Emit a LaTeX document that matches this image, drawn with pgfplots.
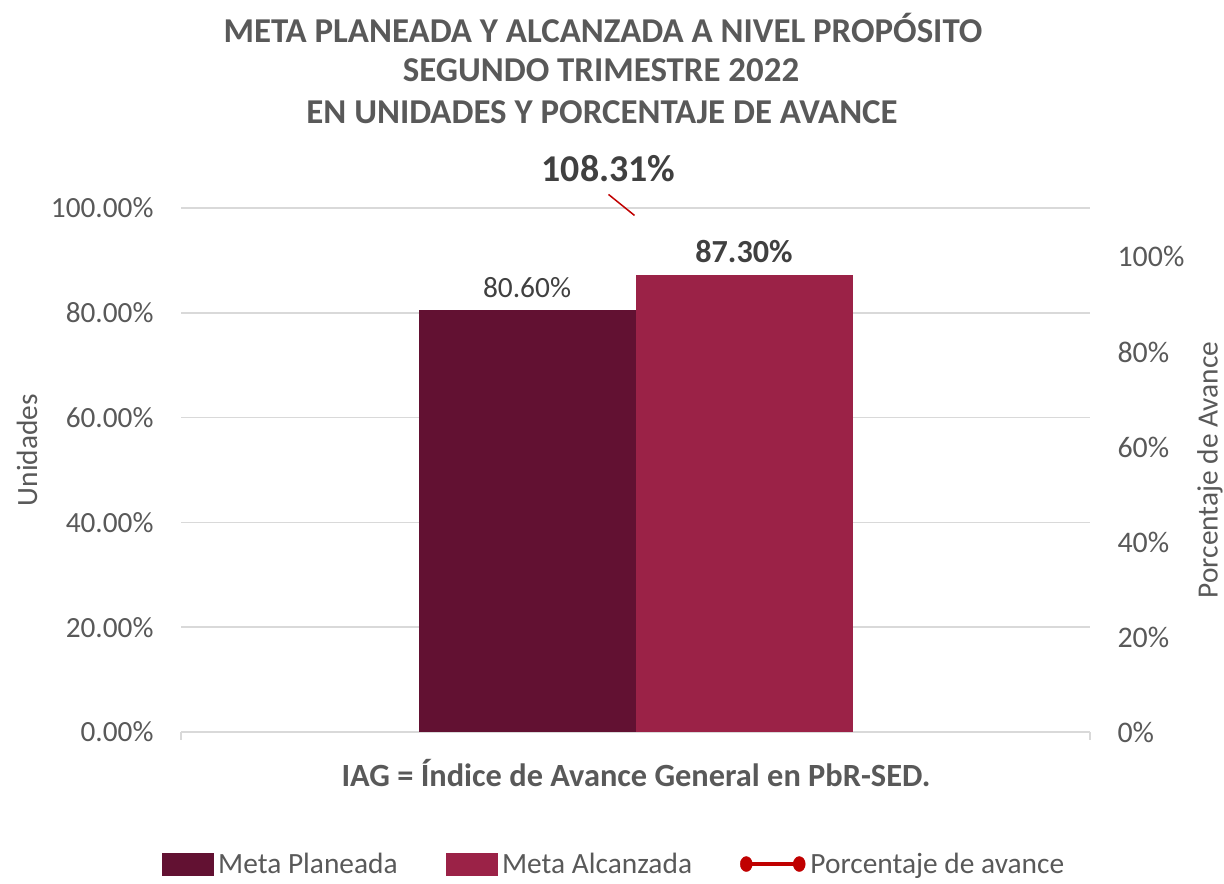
\documentclass[border=0pt]{standalone}
\usepackage{pgfplots}
\pgfplotsset{compat=1.18}
\usepackage{fontspec}
\setmainfont{Carlito}
\definecolor{txt}{HTML}{595959}
\definecolor{lbl}{HTML}{404040}
\definecolor{gridc}{HTML}{D9D9D9}
\definecolor{cA}{HTML}{621132}
\definecolor{cB}{HTML}{9B2247}
\definecolor{cR}{HTML}{C00000}
\newcommand{\fs}[1]{\fontsize{#1}{#1}\selectfont}
\begin{document}
\begin{tikzpicture}[x=1bp,y=1bp]
\useasboundingbox (0,0) rectangle (1224,884);
% Title
\node[font=\fs{35}\bfseries, text=txt] at (603,856) {META PLANEADA Y ALCANZADA A NIVEL PROPÓSITO};
\node[font=\fs{35}\bfseries, text=txt] at (601,814) {SEGUNDO TRIMESTRE 2022};
\node[font=\fs{35}\bfseries, text=txt] at (602,772) {EN UNIDADES Y PORCENTAJE DE AVANCE};
% Axis titles
\node[font=\fs{29.5}, text=txt, rotate=90] at (27,434) {Unidades};
\node[font=\fs{29.5}, text=txt, rotate=90] at (1210,414) {Porcentaje de Avance};
\node[font=\fs{32.5}\bfseries, text=txt] at (636,111) {IAG = Índice de Avance General en PbR-SED.};

\begin{axis}[
  at={(181bp,152bp)}, anchor=south west,
  width=909bp, height=524bp, scale only axis,
  xmin=-0.5, xmax=0.5, ymin=0, ymax=100,
  axis x line*=bottom, axis y line*=left,
  x axis line style={draw=gridc, line width=1.5bp, -},
  y axis line style={draw=none},
  xtick={-0.5,0.5}, xticklabels={,},
  xtick style={draw=gridc, line width=1.5bp},
  tick align=outside, major tick length=8bp,
  ytick={0,20,...,100},
  ytick style={draw=none},
  ymajorgrids, grid style={draw=gridc, line width=1.5bp},
  yticklabel style={font=\fs{29.4}, text=txt, xshift=-16bp},
  /pgf/number format/assume math mode=true,
  yticklabel={\pgfmathprintnumber[fixed,fixed zerofill,precision=2]{\tick}\%},
  ybar, bar shift=0pt, bar width=0.23872,
  nodes near coords,
  point meta=explicit symbolic,
  every node near coord/.append style={font=\fs{29.5}, text=lbl, anchor=south, yshift=8bp},
]
\addplot[fill=cA, draw=none] coordinates {(-0.11936,80.6) [80.60\%]};
\addplot[fill=cB, draw=none, every node near coord/.append style={font=\fs{32.3}\bfseries}] coordinates {(0.11936,87.3) [87.30\%]};
\end{axis}

\begin{axis}[
  at={(181bp,152bp)}, anchor=south west,
  width=909bp, height=524bp, scale only axis, clip=false,
  xmin=-0.5, xmax=0.5, ymin=0, ymax=110.3,
  axis x line=none, axis y line*=right,
  y axis line style={draw=none},
  ytick={0,20,...,100}, ytick style={draw=none},
  yticklabel style={font=\fs{30}, text=txt, xshift=24bp},
  /pgf/number format/assume math mode=true,
  yticklabel={\pgfmathprintnumber[fixed,precision=0]{\tick}\%},
  legend columns=3,
  legend style={at={(0.478,-0.252)}, anchor=center, draw=none, fill=none,
    font=\fs{29.5}, text=txt,
    nodes={inner xsep=5bp},
    /tikz/every even column/.append style={column sep=43bp}},
]
\addlegendimage{legend image code/.code={\fill[cA] (0bp,-11bp) rectangle (51bp,11bp);}}
\addlegendimage{legend image code/.code={\fill[cB] (0bp,-11bp) rectangle (51bp,11bp);}}
\addlegendimage{legend image code/.code={\draw[cR, line width=4bp] (5bp,0) -- (58bp,0); \fill[cR] (5bp,0) ellipse (6bp and 7.5bp); \fill[cR] (58bp,0) ellipse (6bp and 7.5bp);}}
\addplot[draw=none, mark=none, forget plot, nodes near coords, point meta=explicit symbolic,
  every node near coord/.append style={font=\fs{38}\bfseries, text=lbl, anchor=center, xshift=-27bp, yshift=49bp}]
  coordinates {(0,108.31) [108.31\%]};
\draw[cR, line width=1.5bp] (axis cs:0,108.31) ++(-1bp,2bp) -- ++(-26bp,21bp);
\legend{Meta Planeada, Meta Alcanzada, Porcentaje de avance}
\end{axis}
\end{tikzpicture}
\end{document}
